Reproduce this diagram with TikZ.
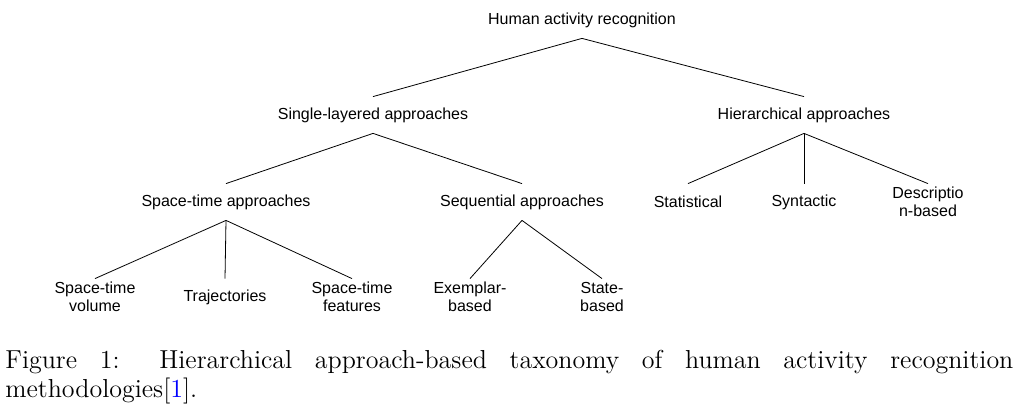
\documentclass[tikz,border=0pt]{standalone}
\usepackage{fontspec}
\newfontfamily\treefont{Liberation Sans}

\begin{document}
\begin{tikzpicture}[x=0.5pt,y=-0.5pt,
    lbl/.style={font=\treefont\fontsize{8}{9}\selectfont,align=center,
      inner sep=0pt,minimum height=18pt}]
        \useasboundingbox (0,0) rectangle (1023,406) ;
        % top levels
        \node[lbl] (har) at (582,20) {Human activity recognition} ;
        \node[lbl] (single) at (373,115) {Single-layered approaches} ;
        \node[lbl] (hier) at (804,115) {Hierarchical approaches} ;
        \node[lbl] (spacetime) at (226,202) {Space-time approaches} ;
        \node[lbl] (seq) at (522,202) {Sequential approaches} ;
        \node[lbl] (stat) at (688,202) {Statistical} ;
        \node[lbl] (synt) at (804,202) {Syntactic} ;
        \node[lbl] (descr) at (928,202) {Descriptio\\n-based} ;
        % leaves
        \node[lbl] (volume) at (95,297) {Space-time\\volume} ;
        \node[lbl] (traj) at (225,297) {Trajectories} ;
        \node[lbl] (features) at (352,297) {Space-time\\features} ;
        \node[lbl] (exemplar) at (470,297) {Exemplar-\\based} ;
        \node[lbl] (state) at (602,297) {State-\\based} ;
        \draw (har.south) -- (single.north) ;
        \draw (har.south) -- (hier.north) ;
        \draw (single.south) -- (spacetime.north) ;
        \draw (single.south) -- (seq.north) ;
        \draw (hier.south) -- (stat.north) ;
        \draw (hier.south) -- (synt.north) ;
        \draw (hier.south) -- (descr.north) ;
        \draw (spacetime.south) -- (volume.north) ;
        \draw (spacetime.south) -- (traj.north) ;
        \draw (spacetime.south) -- (features.north) ;
        \draw (seq.south) -- (exemplar.north) ;
        \draw (seq.south) -- (state.north) ;
        % caption
        \node[anchor=north west,inner sep=0pt,text width=504pt,align=justify,
          font=\fontsize{13}{14.5}\selectfont] (caption) at (5,350)
          {Figure 1: Hierarchical approach-based taxonomy of human activity
           recognition \mbox{methodologies[\textcolor{blue}{1}].}} ;
      \end{tikzpicture}
\end{document}
